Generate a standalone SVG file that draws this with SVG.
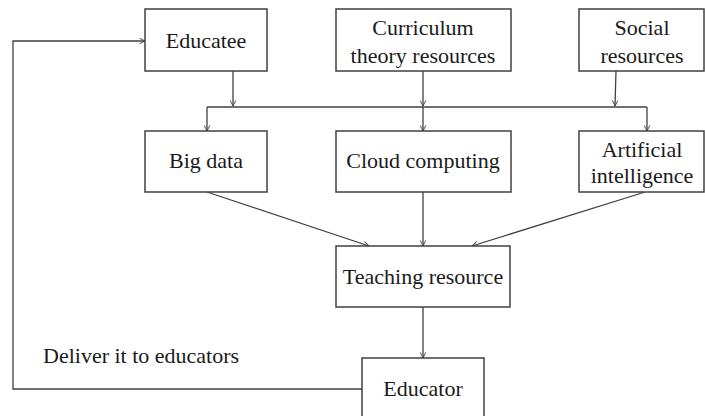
<svg xmlns="http://www.w3.org/2000/svg" width="705" height="416" viewBox="0 0 705 416">
<defs>
<marker id="arr" viewBox="0 0 10 10" refX="9" refY="5" markerWidth="7" markerHeight="7" orient="auto" markerUnits="userSpaceOnUse">
<path d="M1,1 L9,5 L1,9" fill="none" stroke="#404040" stroke-width="1.3"/>
</marker>
<style>
rect{fill:#fff;stroke:#404040;stroke-width:1.5}
text{font-family:"Liberation Serif","Times New Roman",serif;font-size:22px;fill:#1a1a1a;text-anchor:middle}
.c{fill:none;stroke:#404040;stroke-width:1.3}
</style>
</defs>
<rect x="0" y="0" width="705" height="416" style="fill:#fff;stroke:none"/>
<g id="connectors">
<path class="c" d="M233,71 L233,106" marker-end="url(#arr)"/>
<path class="c" d="M423,71 L423,106"  marker-end="url(#arr)"/>
<path class="c" d="M616,71 L615,106" marker-end="url(#arr)"/>
<path class="c" d="M207,107 L647,107"/>
<path class="c" d="M207,107 L207,131" marker-end="url(#arr)"/>
<path class="c" d="M423,107 L423,131" marker-end="url(#arr)"/>
<path class="c" d="M647,107 L647,131" marker-end="url(#arr)"/>
<path class="c" d="M207,192 L369,246" marker-end="url(#arr)"/>
<path class="c" d="M423,192 L423,246" marker-end="url(#arr)"/>
<path class="c" d="M645,192 L472,246" marker-end="url(#arr)"/>
<path class="c" d="M423,307 L423,358" marker-end="url(#arr)"/>
<path class="c" d="M362,389 L13,389 L13,41 L145,41" marker-end="url(#arr)"/>
</g>
<g id="educatee"><rect x="145" y="9" width="122" height="62"/><text x="206" y="48">Educatee</text></g>
<g id="curriculum"><rect x="336" y="9" width="175" height="62"/><text x="423" y="35">Curriculum</text><text x="423" y="63">theory resources</text></g>
<g id="social"><rect x="579" y="9" width="125" height="62"/><text x="642" y="35">Social</text><text x="642" y="63">resources</text></g>
<g id="bigdata"><rect x="145" y="131" width="122" height="61"/><text x="206" y="168">Big data</text></g>
<g id="cloud"><rect x="336" y="131" width="175" height="61"/><text x="423" y="168">Cloud computing</text></g>
<g id="ai"><rect x="579" y="131" width="125" height="61"/><text x="642" y="157">Artificial</text><text x="642" y="183">intelligence</text></g>
<g id="teaching"><rect x="336" y="246" width="174" height="61"/><text x="423" y="284">Teaching resource</text></g>
<g id="educator"><rect x="362" y="358" width="122" height="70"/><text x="423" y="396">Educator</text></g>
<text x="43" y="363" style="text-anchor:start">Deliver it to educators</text>
</svg>
